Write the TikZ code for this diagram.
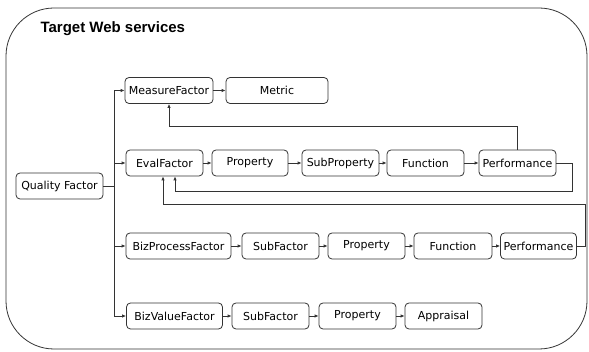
\documentclass[tikz,border=0pt]{standalone}
\usepackage{fontspec}
\setmainfont{DejaVu Sans}
\newfontfamily\titlefont{Liberation Sans}
\usetikzlibrary{arrows.meta}
\definecolor{ink}{HTML}{333333}
\tikzset{
  box/.style={draw=ink, line width=0.8pt, rounded corners=4pt, minimum height=26pt,
    inner sep=0pt, font=\fontsize{11}{13}\selectfont, text=black},
  arr/.style={draw=ink, line width=0.8pt, -{Latex[length=4pt,width=3.5pt]}},
  ln/.style={draw=ink, line width=0.8pt},
}
\begin{document}
\begin{tikzpicture}[x=1pt,y=-1pt]
\useasboundingbox (0,0) rectangle (589,352);
\draw[draw=ink, line width=0.8pt, rounded corners=48pt] (6,8) rectangle (587,349);
\node[anchor=base west, font=\titlefont\bfseries\fontsize{15}{17}\selectfont] (title) at (37,33) {Target Web services};

\node[box, minimum width=87pt] (qf) at (59.5,186) {Quality Factor};

\node[box, minimum width=88pt] (mf) at (169,90.5) {MeasureFactor};
\node[box, minimum width=102pt] (me) at (277,90.5) {Metric};

\node[box, minimum width=77pt] (ef) at (164.5,163) {EvalFactor};
\node[box, minimum width=76pt] (pr2) at (250,163) {Property};
\node[box, minimum width=77pt] (sp) at (340.5,163) {SubProperty};
\node[box, minimum width=77pt] (fn2) at (425.5,163) {Function};
\node[box, minimum width=77pt] (p2) at (517.5,163) {Performance};

\node[box, minimum width=105pt] (bp) at (178.5,246) {BizProcessFactor};
\node[box, minimum width=77pt] (sf3) at (280.5,246) {SubFactor};
\node[box, minimum width=77pt] (pr3) at (366.5,246) {Property};
\node[box, minimum width=78pt] (fn3) at (453,246) {Function};
\node[box, minimum width=76pt] (p3) at (538.5,246) {Performance};

\node[box, minimum width=96pt] (bv) at (174.5,316) {BizValueFactor};
\node[box, minimum width=77pt] (sf4) at (270.5,316) {SubFactor};
\node[box, minimum width=77pt] (pr4) at (357.5,316) {Property};
\node[box, minimum width=77pt] (ap) at (443.5,316) {Appraisal};

% trunk
\coordinate (tr) at (114,186);
\draw[ln] (qf.east) -- (tr);
\draw[arr] (tr) |- (mf.west);
\draw[arr] (tr) |- (ef.west);
\draw[arr] (tr) |- (bp.west);
\draw[arr] (tr) |- (bv.west);

% rows
\draw[arr] (mf) -- (me);
\draw[arr] (ef) -- (pr2);
\draw[arr] (pr2) -- (sp);
\draw[arr] (sp) -- (fn2);
\draw[arr] (fn2) -- (p2);
\draw[arr] (bp) -- (sf3);
\draw[arr] (sf3) -- (pr3);
\draw[arr] (pr3) -- (fn3);
\draw[arr] (fn3) -- (p3);
\draw[arr] (bv) -- (sf4);
\draw[arr] (sf4) -- (pr4);
\draw[arr] (pr4) -- (ap);

% feedback
\draw[arr] (p2.north) |- (mf.south |- 0,126) -- (mf.south);
\draw[arr] (p2.east) -| (572,191) -| ([xshift=10.5pt]ef.south);
\draw[arr] (p3.east) -| (585,204) -| ([xshift=-1.5pt]ef.south);
\end{tikzpicture}
\end{document}
